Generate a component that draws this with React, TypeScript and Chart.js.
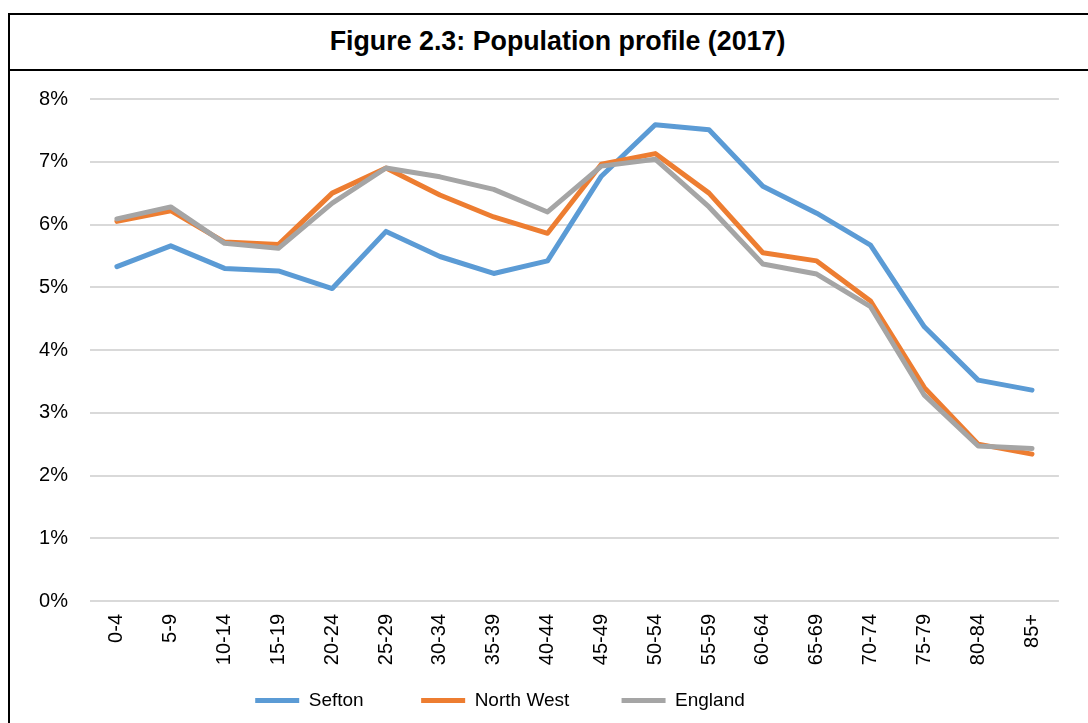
import React, { useEffect, useRef } from "react";
import { Chart, registerables } from "chart.js";

Chart.register(...registerables);

const categories = ["0-4", "5-9", "10-14", "15-19", "20-24", "25-29", "30-34", "35-39", "40-44", "45-49", "50-54", "55-59", "60-64", "65-69", "70-74", "75-79", "80-84", "85+"];
const sefton = [5.33, 5.66, 5.30, 5.26, 4.98, 5.89, 5.49, 5.22, 5.42, 6.77, 7.59, 7.51, 6.61, 6.18, 5.67, 4.37, 3.52, 3.36];
const northWest = [6.05, 6.22, 5.72, 5.68, 6.50, 6.90, 6.47, 6.12, 5.86, 6.96, 7.13, 6.50, 5.55, 5.42, 4.78, 3.40, 2.50, 2.34];
const england = [6.09, 6.28, 5.70, 5.62, 6.34, 6.90, 6.76, 6.56, 6.20, 6.93, 7.04, 6.28, 5.37, 5.21, 4.69, 3.28, 2.47, 2.43];
const yTicks = [0, 1, 2, 3, 4, 5, 6, 7, 8];
const title = "Figure 2.3: Population profile (2017)";

const FONT = "'Liberation Sans', Arial, sans-serif";
const LEGEND_GAPS = ["         ", "        ", ""];

export default function App() {
  const ref = useRef<HTMLCanvasElement | null>(null);

  useEffect(() => {
    document.body.style.margin = "0";
    if (!ref.current) return;
    const mk = (label: string, data: number[], color: string, order: number) => ({
      label,
      data,
      borderColor: color,
      backgroundColor: color,
      borderWidth: 5,
      pointRadius: 0,
      pointHoverRadius: 0,
      tension: 0,
      fill: false,
      borderCapStyle: "round" as const,
      borderJoinStyle: "round" as const,
      order,
    });
    const defaultGen = (Chart.defaults.plugins.legend.labels as any).generateLabels;
    const chart = new Chart(ref.current, {
      type: "line",
      data: {
        labels: categories,
        datasets: [
          mk("Sefton", sefton, "#5B9BD5", 3),
          mk("North West", northWest, "#ED7D31", 2),
          mk("England", england, "#A5A5A5", 1),
        ],
      },
      options: {
        animation: false,
        responsive: false,
        devicePixelRatio: 1,
        color: "#000",
        layout: { autoPadding: false, padding: { top: 99, right: 0, bottom: 3, left: 0 } },
        plugins: {
          title: { display: false },
          tooltip: { enabled: false },
          legend: {
            display: true,
            position: "bottom",
            labels: {
              usePointStyle: true,
              pointStyle: "line",
              pointStyleWidth: 44,
              padding: 10,
              color: "#000",
              font: { family: FONT, size: 19 },
              generateLabels: (c: any) => {
                const items = defaultGen(c);
                items.sort((a: any, b: any) => a.datasetIndex - b.datasetIndex);
                return items.map((it: any, i: number) => ({
                  ...it,
                  text: it.text + (LEGEND_GAPS[i] || ""),
                }));
              },
            },
          },
        },
        scales: {
          x: {
            type: "category",
            offset: true,
            grid: { display: false, drawTicks: false },
            border: { display: false },
            ticks: {
              autoSkip: false,
              minRotation: 90,
              maxRotation: 90,
              padding: 13,
              color: "#000",
              font: { family: FONT, size: 20 },
            },
            afterFit: (scale: any) => {
              scale.height = 80;
            },
          },
          y: {
            min: 0,
            max: 8,
            afterBuildTicks: (scale: any) => {
              scale.ticks = yTicks.map((v) => ({ value: v }));
            },
            grid: { color: "#D9D9D9", lineWidth: 2, drawTicks: false },
            border: { display: false },
            ticks: {
              padding: 22,
              color: "#000",
              font: { family: FONT, size: 20 },
              callback: (v: any) => `${v}%`,
            },
            afterFit: (scale: any) => {
              scale.width = 159;
            },
          },
        },
      },
    });
    return () => chart.destroy();
  }, []);

  return (
    <div style={{ position: "relative", width: 1088, height: 723, overflow: "hidden", background: "#fff" }}>
      <div
        style={{
          position: "absolute",
          left: 8,
          top: 13,
          width: 1200,
          height: 800,
          borderLeft: "2px solid #000",
          borderTop: "2px solid #000",
          boxSizing: "border-box",
        }}
      />
      <div style={{ position: "absolute", left: 8, top: 69, width: 1200, height: 2, background: "#000" }} />
      <div
        style={{
          position: "absolute",
          left: 8,
          top: 14,
          width: 1099,
          height: 54,
          lineHeight: "54px",
          textAlign: "center",
          fontFamily: FONT,
          fontWeight: "bold",
          fontSize: 26.8,
          color: "#000",
          whiteSpace: "nowrap",
        }}
      >
        {title}
      </div>
      <canvas
        ref={ref}
        width={1138}
        height={723}
        style={{ position: "absolute", left: -69, top: 0, width: 1138, height: 723 }}
      />
    </div>
  );
}
